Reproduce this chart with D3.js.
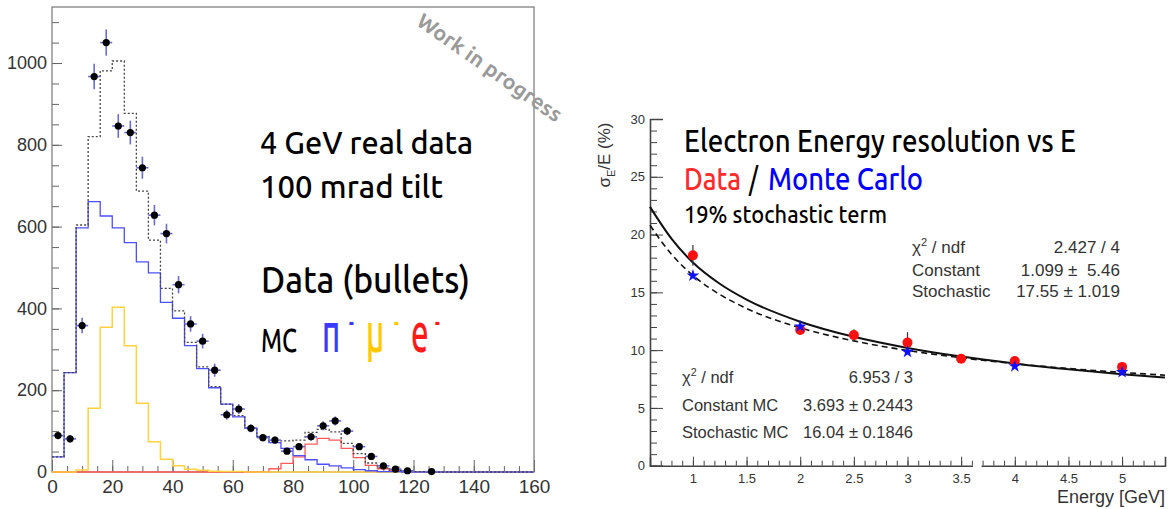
<!DOCTYPE html>
<html>
<head>
<meta charset="utf-8">
<script src="https://cdn.jsdelivr.net/npm/d3@7"></script>
<style>
  body { margin: 0; background: #fff; }
  svg { display: block; }
  .ax text { font-family: "Liberation Sans", Arial, sans-serif; fill: #333; }
</style>
</head>
<body>
<svg id="chart" width="1175" height="509"></svg>
<script>
// ---- left plot: histogram, 4-unit bins from 0 to 160 ----
const binWidth = 4;
const piMinus = [37, 243, 597, 661, 626, 597, 561, 514, 487, 415, 376, 309, 253, 206, 166, 135, 107, 86, 72, 58,
  40, 30, 19, 15, 10, 6, 3, 1, 1, 0, 0, 0, 0, 0, 0, 0, 0, 0, 0, 0];
const muMinus = [0, 0, 5, 156, 354, 403, 309, 168, 74, 31, 15, 7, 4, 2, 1, 1, 0, 0, 0, 0,
  0, 0, 0, 0, 0, 0, 0, 0, 0, 0, 0, 0, 0, 0, 0, 0, 0, 0, 0, 0];
const eMinus = [0, 0, 0, 0, 0, 0, 0, 0, 0, 0, 0, 0, 0, 0, 0, 0, 0, 1, 8, 21,
  37, 68, 82, 78, 58, 35, 16, 8, 3, 1, 0, 0, 0, 0, 0, 0, 0, 0, 0, 0];
const mcTotal = [37, 243, 604, 820, 981, 1005, 877, 687, 567, 449, 394, 317, 257, 209, 166, 138, 108, 87, 76, 76,
  78, 97, 104, 98, 70, 45, 22, 10, 4, 2, 1, 0, 0, 0, 0, 0, 0, 0, 0, 0];

// data bullets (bin centres)
const dataX = [2, 6, 10, 14, 18, 22, 26, 30, 34, 38, 42, 46, 50, 54, 58, 62, 66, 70, 74, 78,
  82, 86, 90, 94, 98, 102, 106, 110, 114, 118, 126];
const dataY = [89, 81, 358, 967, 1050, 846, 830, 744, 628, 583, 458, 362, 320, 249, 140, 154, 107, 84, 78, 51,
  62, 86, 113, 125, 100, 62, 38, 15, 7, 3, 1];
const dataErr = [9, 9, 19, 31, 32, 29, 29, 27, 25, 24, 21, 19, 18, 16, 12, 12, 10, 9, 9, 7,
  8, 9, 11, 11, 10, 8, 6, 4, 3, 2, 1];

const leftYTicks = [0, 200, 400, 600, 800, 1000];
const leftXTicks = [0, 20, 40, 60, 80, 100, 120, 140, 160];

// ---- right plot: energy resolution ----
const energies = [1, 2, 2.5, 3, 3.5, 4, 5];
const dataRes = [18.2, 11.75, 11.3, 10.65, 9.25, 9.05, 8.55];
const dataResErr = [0.9, 0.45, 0.5, 0.9, 0.2, 0.3, 0.3];
const mcEnergies = [1, 2, 3, 4, 5];
const mcRes = [16.45, 12.05, 9.85, 8.6, 8.1];

// fit curves
const fitE = [0.6, 0.8, 1, 1.25, 1.5, 2, 2.5, 3, 3.5, 4, 4.5, 5, 5.4];
const fitData = [22.4, 19.65, 17.58, 15.74, 14.37, 12.46, 11.15, 10.19, 9.44, 8.84, 8.34, 7.92, 7.63];
const fitMC = [20.8, 18.3, 16.46, 14.82, 13.61, 11.93, 10.8, 9.97, 9.34, 8.83, 8.41, 8.07, 7.83];

const rightYTicks = [0, 5, 10, 15, 20, 25, 30];
const rightXTicks = [1, 1.5, 2, 2.5, 3, 3.5, 4, 4.5, 5];

const svg = d3.select('#chart');

/* ================= LEFT ================= */
const xL = d3.scaleLinear().domain([0, 160]).range([52, 534]);
const yL = d3.scaleLinear().domain([0, 1137]).range([472, 7]);

const left = svg.append('g');

// minor ticks
left.append('g').attr('class', 'ax')
  .attr('transform', `translate(${xL(0)},0)`)
  .call(d3.axisLeft(yL).tickValues(d3.range(0, 1137, 50)).tickSize(-7).tickFormat(''))
  .call(g => g.select('.domain').remove())
  .selectAll('line').attr('stroke', '#666');
left.append('g').attr('class', 'ax')
  .attr('transform', `translate(0,${yL(0)})`)
  .call(d3.axisBottom(xL).tickValues(d3.range(0, 161, 5)).tickSize(-6).tickFormat(''))
  .call(g => g.select('.domain').remove())
  .selectAll('line').attr('stroke', '#666');

// major ticks + labels
left.append('g').attr('class', 'ax')
  .attr('transform', `translate(${xL(0)},0)`)
  .call(d3.axisLeft(yL).tickValues(leftYTicks).tickSize(-10).tickPadding(5).tickFormat(d3.format('d')))
  .call(g => g.select('.domain').remove())
  .call(g => g.selectAll('line').attr('stroke', '#666'))
  .selectAll('text').attr('font-size', 18);
left.append('g').attr('class', 'ax')
  .attr('transform', `translate(0,${yL(0)})`)
  .call(d3.axisBottom(xL).tickValues(leftXTicks).tickSize(-12).tickPadding(8))
  .call(g => g.select('.domain').remove())
  .call(g => g.selectAll('line').attr('stroke', '#666'))
  .selectAll('text').attr('font-size', 19);

// frame
left.append('rect')
  .attr('x', xL(0)).attr('y', yL(1137))
  .attr('width', xL(160) - xL(0)).attr('height', yL(0) - yL(1137))
  .attr('fill', 'none').attr('stroke', '#777').attr('stroke-width', 1.2);

// step histograms
const stepLine = d3.line()
  .x(d => xL(d[0]))
  .y(d => yL(d[1]))
  .curve(d3.curveStepAfter);

function histPoints(values) {
  let pts = values.map((v, i) => [i * binWidth, v]);
  pts.push([values.length * binWidth, values[values.length - 1]]);
  return pts;
}

const hists = [
  { vals: eMinus, color: '#ff5a5a', dash: null, w: 1.3 },
  { vals: muMinus, color: '#ffd23f', dash: null, w: 1.5 },
  { vals: piMinus, color: '#4f4fff', dash: null, w: 1.3 },
  { vals: mcTotal, color: '#444', dash: '2,2', w: 1.3 }
];
left.selectAll('path.hist')
  .data(hists)
  .join('path')
  .attr('class', 'hist')
  .attr('d', d => stepLine(histPoints(d.vals)))
  .attr('fill', 'none')
  .attr('stroke', d => d.color)
  .attr('stroke-width', d => d.w)
  .attr('stroke-dasharray', d => d.dash);

// data bullets with error bars
const bullets = dataX.map((x, i) => ({ x: x, y: dataY[i], e: dataErr[i] }));
const bg = left.append('g');
bg.selectAll('line.ev')
  .data(bullets)
  .join('line')
  .attr('x1', d => xL(d.x)).attr('x2', d => xL(d.x))
  .attr('y1', d => yL(d.y + d.e)).attr('y2', d => yL(Math.max(0, d.y - d.e)))
  .attr('stroke', '#6a6ad8').attr('stroke-width', 1.6);
bg.selectAll('line.eh')
  .data(bullets)
  .join('line')
  .attr('x1', d => xL(d.x - binWidth / 2)).attr('x2', d => xL(d.x + binWidth / 2))
  .attr('y1', d => yL(d.y)).attr('y2', d => yL(d.y))
  .attr('stroke', '#6a6ad8').attr('stroke-width', 1.6);
bg.selectAll('circle')
  .data(bullets)
  .join('circle')
  .attr('cx', d => xL(d.x)).attr('cy', d => yL(d.y))
  .attr('r', 3.6).attr('fill', '#000');

// annotations
const cond = '"Ubuntu", "Open Sans", sans-serif';
function note(sel, x, y, txt, size, len, color, weight) {
  return sel.append('text')
    .attr('x', x).attr('y', y)
    .attr('font-family', cond).attr('font-size', size)
    .attr('font-weight', weight || 500)
    .attr('fill', color || '#000')
    .attr('textLength', len).attr('lengthAdjust', 'spacingAndGlyphs')
    .text(txt);
}
note(svg, 260, 154, '4 GeV real data', 32, 213);
note(svg, 260, 198, '100 mrad tilt', 32, 183);
note(svg, 261, 293, 'Data (bullets)', 38, 209);
note(svg, 261, 352, 'MC', 34, 36);

// particle symbols: one text, squeezed horizontally like a condensed face
const sx = 0.56;
const parts = svg.append('text')
  .attr('transform', `translate(322,352) scale(${sx},1)`)
  .attr('font-family', cond).attr('font-size', 56).attr('font-weight', 500);
[
  { t: 'π', x: 322, c: '#3a3aff' }, { t: '-', x: 349, c: '#3a3aff', sup: true },
  { t: 'μ', x: 366, c: '#ffc800' }, { t: '-', x: 394, c: '#ffc800', sup: true },
  { t: 'e', x: 411, c: '#ff1a1a' }, { t: '-', x: 435, c: '#ff1a1a', sup: true }
].forEach(p => {
  parts.append('tspan')
    .attr('x', (p.x - 322) / sx)
    .attr('y', p.sup ? -21 : 0)
    .attr('font-size', p.sup ? 26 : 56)
    .attr('font-weight', p.sup ? 700 : 500)
    .attr('fill', p.c)
    .text(p.t);
});

// watermark
svg.append('text')
  .attr('transform', 'translate(490,67) rotate(35)')
  .attr('text-anchor', 'middle').attr('dominant-baseline', 'central')
  .attr('font-family', cond).attr('font-weight', 'bold').attr('font-size', 21)
  .attr('fill', '#9a9a9a')
  .attr('textLength', 172).attr('lengthAdjust', 'spacingAndGlyphs')
  .text('Work in progress');

/* ================= RIGHT ================= */
const xR = d3.scaleLinear().domain([0.6, 5.4]).range([650, 1165]);
const yR = d3.scaleLinear().domain([0, 30]).range([465.7, 119]);

const right = svg.append('g');

// minor ticks
right.append('g').attr('class', 'ax')
  .attr('transform', `translate(${xR(0.6)},0)`)
  .call(d3.axisLeft(yR).tickValues(d3.range(0, 31, 1)).tickSize(-7).tickFormat(''))
  .call(g => g.select('.domain').remove())
  .selectAll('line').attr('stroke', '#444');
right.append('g').attr('class', 'ax')
  .attr('transform', `translate(0,${yR(0)})`)
  .call(d3.axisBottom(xR).tickValues(d3.range(6, 55, 1).map(d => d / 10)).tickSize(-5).tickFormat(''))
  .call(g => g.select('.domain').remove())
  .selectAll('line').attr('stroke', '#444');

// major ticks
right.append('g').attr('class', 'ax')
  .attr('transform', `translate(${xR(0.6)},0)`)
  .call(d3.axisLeft(yR).tickValues(rightYTicks).tickSize(-13).tickPadding(5))
  .call(g => g.select('.domain').attr('stroke', '#444').attr('stroke-width', 1.6))
  .call(g => g.selectAll('line').attr('stroke', '#444'))
  .selectAll('text').attr('font-size', 13);
right.append('g').attr('class', 'ax')
  .attr('transform', `translate(0,${yR(0)})`)
  .call(d3.axisBottom(xR).tickValues(rightXTicks).tickSize(-9).tickPadding(8).tickFormat(d3.format('')))
  .call(g => g.select('.domain').attr('stroke', '#444').attr('stroke-width', 1.6))
  .call(g => g.selectAll('line').attr('stroke', '#444'))
  .selectAll('text').attr('font-size', 13);

// small break in the x axis line
right.append('rect')
  .attr('x', xR(3.61)).attr('y', yR(0) - 1.5)
  .attr('width', xR(3.69) - xR(3.61)).attr('height', 4)
  .attr('fill', '#fff');

// axis titles
const yt = right.append('text')
  .attr('transform', 'translate(610,155) rotate(-90)')
  .attr('text-anchor', 'middle')
  .attr('font-family', '"Liberation Sans", Arial, sans-serif')
  .attr('font-size', 17).attr('fill', '#333');
yt.append('tspan').text('σ');
yt.append('tspan').attr('font-size', 11).attr('dy', 5).text('E');
yt.append('tspan').attr('dy', -5).text('/E (%)');

right.append('text')
  .attr('x', 1165).attr('y', 503)
  .attr('text-anchor', 'end')
  .attr('font-family', '"Liberation Sans", Arial, sans-serif')
  .attr('font-size', 18).attr('fill', '#333')
  .text('Energy [GeV]');

// fit curves
const fitLine = d3.line()
  .x(d => xR(d[0]))
  .y(d => yR(d[1]))
  .curve(d3.curveMonotoneX);
right.append('path')
  .attr('d', fitLine(fitE.map((e, i) => [e, fitMC[i]])))
  .attr('fill', 'none').attr('stroke', '#111')
  .attr('stroke-width', 1.6).attr('stroke-dasharray', '6,4');
right.append('path')
  .attr('d', fitLine(fitE.map((e, i) => [e, fitData[i]])))
  .attr('fill', 'none').attr('stroke', '#111').attr('stroke-width', 2);

// data points
const resPts = energies.map((e, i) => ({ e: e, v: dataRes[i], err: dataResErr[i] }));
right.selectAll('line.rerr')
  .data(resPts)
  .join('line')
  .attr('x1', d => xR(d.e)).attr('x2', d => xR(d.e))
  .attr('y1', d => yR(d.v + d.err)).attr('y2', d => yR(d.v - d.err))
  .attr('stroke', '#333').attr('stroke-width', 1.2);
right.selectAll('circle')
  .data(resPts)
  .join('circle')
  .attr('cx', d => xR(d.e)).attr('cy', d => yR(d.v))
  .attr('r', 5).attr('fill', '#ff1010');

// MC stars
right.selectAll('path.star')
  .data(mcEnergies.map((e, i) => ({ e: e, v: mcRes[i] })))
  .join('path')
  .attr('class', 'star')
  .attr('transform', d => `translate(${xR(d.e)},${yR(d.v)})`)
  .attr('d', d3.symbol(d3.symbolStar, 50))
  .attr('fill', '#1010ff');

// title lines
note(svg, 684, 152, 'Electron Energy resolution vs E', 31, 392);
note(svg, 684, 190, 'Data', 31, 57, '#ff2a2a');
note(svg, 749, 190, '/', 31, 9);
note(svg, 768, 190, 'Monte Carlo', 31, 155, '#0000ff');
note(svg, 684, 223, '19% stochastic term', 25, 203);

// stat boxes
function statRow(xl, xr, y, label, value, size) {
  let t = svg.append('text')
    .attr('x', xl).attr('y', y)
    .attr('font-family', '"Liberation Sans", Arial, sans-serif')
    .attr('font-size', size).attr('fill', '#333');
  if (label.startsWith('χ')) {
    t.append('tspan').text('χ');
    t.append('tspan').attr('font-size', size * 0.65).attr('dy', -7).text('2');
    t.append('tspan').attr('dy', 7).text(' / ndf');
  } else {
    t.text(label);
  }
  svg.append('text')
    .attr('x', xr).attr('y', y)
    .attr('text-anchor', 'end')
    .attr('font-family', '"Liberation Sans", Arial, sans-serif')
    .attr('font-size', size).attr('fill', '#333')
    .attr('xml:space', 'preserve')
    .text(value);
}
statRow(912, 1120, 253, 'χ2 / ndf', '2.427 / 4', 17);
statRow(912, 1120, 276, 'Constant', '1.099 ±  5.46', 17);
statRow(912, 1120, 297, 'Stochastic', '17.55 ± 1.019', 17);

statRow(682, 913, 383, 'χ2 / ndf', '6.953 / 3', 16.5);
statRow(682, 913, 411, 'Constant MC', '3.693 ± 0.2443', 16.5);
statRow(682, 913, 438, 'Stochastic MC', '16.04 ± 0.1846', 16.5);
</script>
</body>
</html>
